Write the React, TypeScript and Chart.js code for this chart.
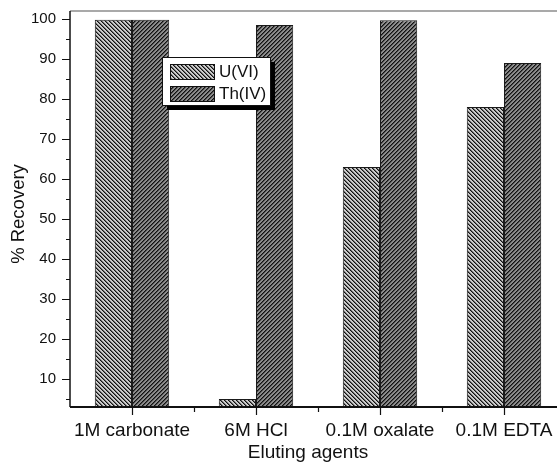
import React, { useEffect, useRef } from "react";
import { Chart, registerables } from "chart.js";

Chart.register(...registerables);

const categories = ["1M carbonate", "6M HCl", "0.1M oxalate", "0.1M EDTA"];
const seriesNames = ["U(VI)", "Th(IV)"];
const uVI = [99.8, 5, 63, 78];
const thIV = [99.8, 98.5, 99.7, 89];
const yMajorTicks = [10, 20, 30, 40, 50, 60, 70, 80, 90, 100];
const yMinorTicks = [5, 15, 25, 35, 45, 55, 65, 75, 85, 95];
const yTitle = "% Recovery";
const xTitle = "Eluting agents";

const FONT = "'Liberation Sans', Arial, sans-serif";

function makePattern(bg: string, fg: string, mid: string, dir: "back" | "fwd"): CanvasPattern | string {
  const size = 4;
  const c = document.createElement("canvas");
  c.width = size;
  c.height = size;
  const ctx = c.getContext("2d");
  if (!ctx) return bg;
  ctx.fillStyle = bg;
  ctx.fillRect(0, 0, size, size);
  for (let i = 0; i < size; i++) {
    const x = dir === "back" ? i : size - 1 - i;
    const x2 = dir === "back" ? (i + 1) % size : (size - i) % size;
    ctx.fillStyle = fg;
    ctx.fillRect(x, i, 1, 1);
    ctx.fillStyle = mid;
    ctx.fillRect(x2, i, 1, 1);
  }
  const p = ctx.createPattern(c, "repeat");
  return p || bg;
}

export default function App() {
  const ref = useRef<HTMLCanvasElement | null>(null);

  useEffect(() => {
    document.body.style.margin = "0";
    document.body.style.overflow = "hidden";
    const canvas = ref.current;
    if (!canvas) return;
    const uPat = makePattern("#cdcdcd", "#111111", "#6a6a6a", "back");
    const thPat = makePattern("#8c8c8c", "#111111", "#4a4a4a", "fwd");

    const decor = {
      id: "decor",
      afterDraw(chart: any) {
        const ctx = chart.ctx as CanvasRenderingContext2D;
        const area = chart.chartArea;
        const xs = chart.scales.x;
        const ys = chart.scales.y;
        ctx.save();
        // top frame line
        ctx.strokeStyle = "#8c8c8c";
        ctx.lineWidth = 1.5;
        ctx.beginPath();
        ctx.moveTo(area.left, area.top);
        ctx.lineTo(chart.width, area.top);
        ctx.stroke();
        // axes
        ctx.strokeStyle = "#111";
        ctx.lineWidth = 1.5;
        ctx.beginPath();
        ctx.moveTo(area.left, area.top);
        ctx.lineTo(area.left, area.bottom);
        ctx.stroke();
        ctx.lineWidth = 2;
        ctx.beginPath();
        ctx.moveTo(area.left, area.bottom);
        ctx.lineTo(chart.width, area.bottom);
        ctx.stroke();
        // y ticks
        ctx.lineWidth = 1.2;
        ctx.beginPath();
        yMajorTicks.forEach((v) => {
          const y = Math.round(ys.getPixelForValue(v)) + 0.5;
          ctx.moveTo(area.left - 8, y);
          ctx.lineTo(area.left, y);
        });
        yMinorTicks.forEach((v) => {
          const y = Math.round(ys.getPixelForValue(v)) + 0.5;
          ctx.moveTo(area.left - 4, y);
          ctx.lineTo(area.left, y);
        });
        // x ticks
        categories.forEach((_, i) => {
          const x = Math.round(xs.getPixelForValue(i)) + 0.5;
          ctx.moveTo(x, area.bottom);
          ctx.lineTo(x, area.bottom + 8);
          if (i < categories.length - 1) {
            const xm = Math.round((xs.getPixelForValue(i) + xs.getPixelForValue(i + 1)) / 2) + 0.5;
            ctx.moveTo(xm, area.bottom);
            ctx.lineTo(xm, area.bottom + 5);
          }
        });
        ctx.stroke();

        // titles
        ctx.fillStyle = "#111";
        ctx.font = `19px ${FONT}`;
        ctx.textAlign = "center";
        ctx.textBaseline = "middle";
        ctx.fillText(xTitle, 308, 453);
        ctx.save();
        ctx.translate(19, 214);
        ctx.rotate(-Math.PI / 2);
        ctx.font = `18.5px ${FONT}`;
        ctx.fillText(yTitle, 0, 0);
        ctx.restore();

        // legend
        const lx = 162, ly = 57, lw = 108, lh = 48;
        ctx.fillStyle = "#000";
        ctx.fillRect(lx + 5, ly + 5, lw, lh);
        ctx.fillStyle = "#fff";
        ctx.fillRect(lx, ly, lw, lh);
        ctx.strokeStyle = "#111";
        ctx.lineWidth = 1;
        ctx.strokeRect(lx + 0.5, ly + 0.5, lw, lh);
        const pats = [uPat, thPat];
        seriesNames.forEach((name, i) => {
          const sy = ly + 7 + i * 22;
          ctx.fillStyle = pats[i] as any;
          ctx.fillRect(lx + 8, sy, 44, 15);
          ctx.strokeStyle = "#111";
          ctx.strokeRect(lx + 8.5, sy + 0.5, 44, 15);
          ctx.fillStyle = "#111";
          ctx.font = `17px ${FONT}`;
          ctx.textAlign = "left";
          ctx.textBaseline = "middle";
          ctx.fillText(name, lx + 57, sy + 8);
        });
        ctx.restore();
      },
    };

    const chart = new Chart(canvas, {
      type: "bar",
      data: {
        labels: categories,
        datasets: [
          {
            label: seriesNames[0],
            data: uVI,
            backgroundColor: uPat as any,
            borderColor: "#1a1a1a",
            borderWidth: 1,
            categoryPercentage: 0.6,
            barPercentage: 1,
          },
          {
            label: seriesNames[1],
            data: thIV,
            backgroundColor: thPat as any,
            borderColor: "#1a1a1a",
            borderWidth: 1,
            categoryPercentage: 0.6,
            barPercentage: 1,
          },
        ],
      },
      options: {
        responsive: false,
        animation: false,
        layout: { padding: { left: 0, right: 34, top: 11, bottom: 0 } },
        plugins: { legend: { display: false }, tooltip: { enabled: false } },
        scales: {
          x: {
            type: "category",
            offset: true,
            grid: { display: false, drawTicks: false },
            border: { display: false },
            ticks: {
              color: "#111",
              font: { family: FONT, size: 19 },
              padding: 12,
              maxRotation: 0,
              autoSkip: false,
            },
            afterFit(scale: any) {
              scale.height = 59;
              scale.paddingLeft = 0;
              scale.paddingRight = 0;
            },
          },
          y: {
            min: 3,
            max: 102,
            grid: { display: false, drawTicks: false },
            border: { display: false },
            ticks: {
              color: "#111",
              font: { family: FONT, size: 15 },
              padding: 14,
            },
            afterBuildTicks(scale: any) {
              scale.ticks = yMajorTicks.map((v) => ({ value: v }));
            },
            afterFit(scale: any) {
              scale.width = 70;
              scale.paddingTop = 0;
              scale.paddingBottom = 0;
            },
          },
        },
      },
      plugins: [decor],
    });
    return () => chart.destroy();
  }, []);

  return (
    <div style={{ position: "relative", width: 557, height: 466, overflow: "hidden" }}>
      <canvas ref={ref} width={600} height={466} style={{ display: "block", width: 600, height: 466 }} />
    </div>
  );
}
